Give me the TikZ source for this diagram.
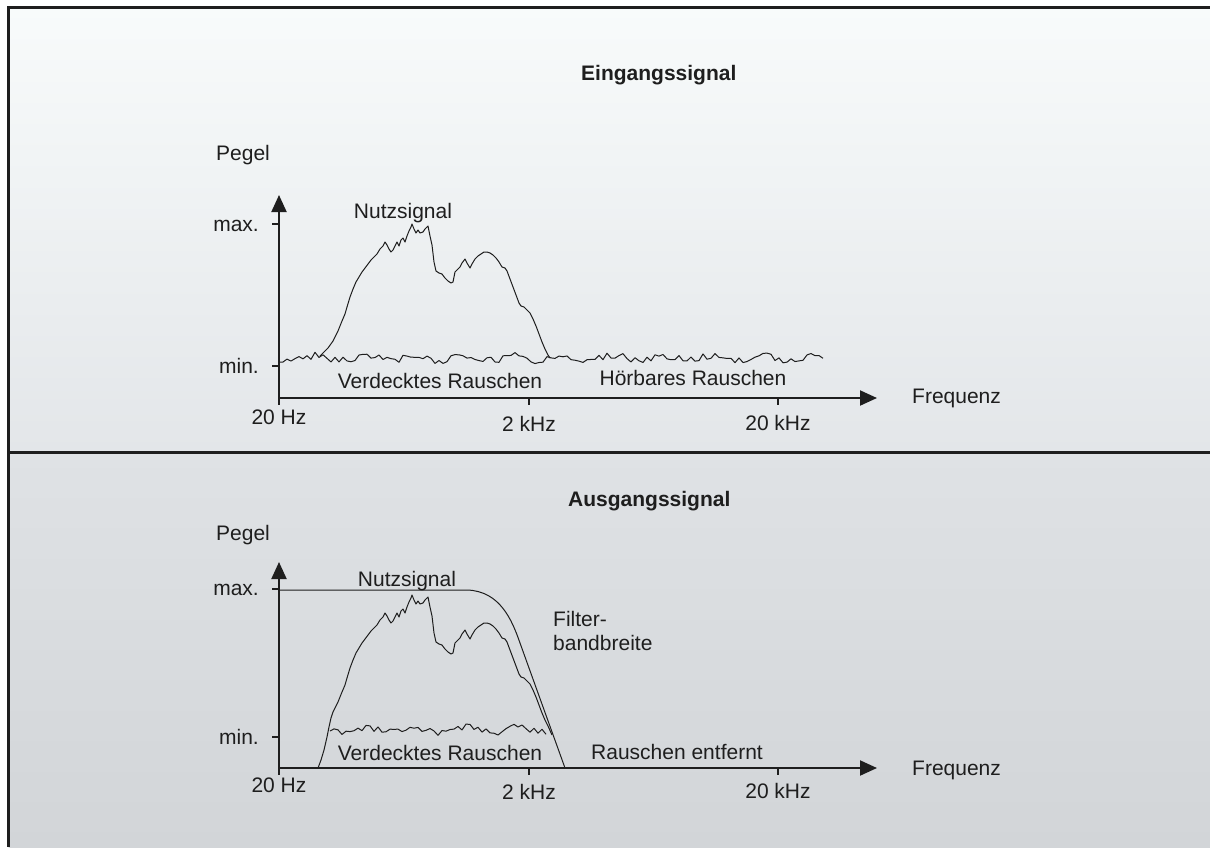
\documentclass[tikz,border=0pt]{standalone}
\usepackage{fontspec}
\setmainfont{Liberation Sans}
\usepackage{tikz}
\usetikzlibrary{positioning,arrows.meta}
\usepackage{xcolor}
\definecolor{ink}{HTML}{1E1E1E}
\definecolor{panelTop}{HTML}{F8FBFB}
\definecolor{panelMid}{HTML}{E3E6E9}
\definecolor{panelLow}{HTML}{DFE2E5}
\definecolor{panelEnd}{HTML}{D2D5D8}

\newcommand{\signalCore}{-- (333,341) -- (338,331) -- (342,321) -- (345,314) -- (347,307) -- (350,297) -- (353,289) -- (356,282) -- (359,277) -- (362,272) -- (365,268) -- (368,264) -- (371,260) -- (374,257) -- (377,254) -- (380,249) -- (383,246) -- (385,242) -- (387,245) -- (389,249) -- (391,252) -- (393,250) -- (395,246) -- (397,242) -- (399,246) -- (401,240) -- (403,238) -- (405,242) -- (407,236) -- (409,231) -- (411,227) -- (412,224) -- (414,229) -- (416,233) -- (418,230) -- (420,233) -- (423,232) -- (425,229) -- (428,226) -- (430,236) -- (432,245) -- (434,262) -- (436,271) -- (439,273) -- (442,274) -- (445,278) -- (448,281) -- (451,283) -- (453,282) -- (455,272) -- (457,270) -- (460,267) -- (462,263) -- (465,259) -- (467,263) -- (470,268) -- (472,264) -- (475,259) -- (478,256) -- (481,254) -- (484,252) -- (487,252) -- (490,253) -- (493,255) -- (496,258) -- (499,262) -- (502,267) -- (505,268) -- (507,271) -- (510,279) -- (513,287) -- (516,295) -- (519,303) -- (521,306) -- (524,307) -- (527,310) -- (530,313) -- (533,319) -- (536,326) -- (539,334) -- (542,342) -- (545,349) -- (548,355)}

\begin{document}
\begin{tikzpicture}[x=1pt, y=-1pt,
    axisArrow/.style={-{Triangle[length=17pt,width=15pt]}, line width=2pt, draw=ink},
    tickLine/.style={line width=1.3pt, draw=ink},
    curveLine/.style={line width=1pt, draw=ink, line join=round},
    frameLine/.style={line width=3pt, draw=ink},
    labelText/.style={font=\fontsize{21}{24}\selectfont, text=ink, inner sep=0pt},
    titleText/.style={font=\fontsize{21}{24}\selectfont\bfseries, text=ink, inner sep=0pt}
]
    \useasboundingbox (0,0) rectangle (1210,847);
    \fill[white] (0,0) rectangle (1210,847);
    \shade[top color=panelTop, bottom color=panelMid] (8.5,7) rectangle (1210,452);
    \shade[top color=panelLow, bottom color=panelEnd] (8.5,452) rectangle (1210,847);
    \draw[frameLine] (1210,7) -- (8.5,7) -- (8.5,847);
    \draw[frameLine] (8.5,452) -- (1210,452);

    \coordinate (inOrigin) at (279,398);
    \coordinate (inYTop) at (279,195);
    \coordinate (inXEnd) at (877,398);
    \coordinate (outOrigin) at (279,768);
    \coordinate (outYTop) at (279,562);
    \coordinate (outXEnd) at (877,768);

    \node[titleText, anchor=base west] (inTitle) at (581,80) {Eingangssignal};
    \node[labelText, anchor=base west] (inPegel) at (216,160) {Pegel};
    \node[labelText, anchor=base east] (inMax) at (259,231) {max.};
    \node[labelText, anchor=base east] (inMin) at (259,373) {min.};
    \node[labelText, anchor=base] (inNutz) at (403,218) {Nutzsignal};
    \node[labelText, anchor=base] (inMasked) at (440,388) {Verdecktes Rauschen};
    \node[labelText, anchor=base] (inAudible) at (693,385) {Hörbares Rauschen};
    \node[labelText, anchor=base west] (inFreq) at (912,403) {Frequenz};
    \node[labelText, anchor=base] (in20Hz) at (279,424) {20 Hz};
    \node[labelText, anchor=base] (in2kHz) at (529,431) {2 kHz};
    \node[labelText, anchor=base] (in20kHz) at (778,430) {20 kHz};

    \draw[axisArrow] (inOrigin) -- (inYTop);
    \draw[axisArrow] (inOrigin) -- (inXEnd);
    \foreach \ty in {224,366}
        \draw[tickLine] (272,\ty) -- (279,\ty);
    \foreach \tx in {279,529,778}
        \draw[tickLine] (\tx,398) -- (\tx,405);

    \pgfmathsetseed{73}
    \draw[curveLine] (279,362) \foreach \k in {1,...,136} { -- ({279+4*\k},{358+2.5*sin(\k*29)+3.5*rand}) };
    \draw[curveLine] (320,356) -- (324,352) -- (328,348) \signalCore -- (550,358);

    \node[titleText, anchor=base west] (outTitle) at (568,506) {Ausgangssignal};
    \node[labelText, anchor=base west] (outPegel) at (216,540) {Pegel};
    \node[labelText, anchor=base east] (outMax) at (259,595) {max.};
    \node[labelText, anchor=base east] (outMin) at (259,744) {min.};
    \node[labelText, anchor=base] (outNutz) at (407,586) {Nutzsignal};
    \node[labelText, anchor=north west, align=left] (outFilter) at (553,611) {Filter-\\bandbreite};
    \node[labelText, anchor=base] (outMasked) at (440,760) {Verdecktes Rauschen};
    \node[labelText, anchor=base] (outRemoved) at (677,759) {Rauschen entfernt};
    \node[labelText, anchor=base west] (outFreq) at (912,775) {Frequenz};
    \node[labelText, anchor=base] (out20Hz) at (279,792) {20 Hz};
    \node[labelText, anchor=base] (out2kHz) at (529,799) {2 kHz};
    \node[labelText, anchor=base] (out20kHz) at (778,798) {20 kHz};

    \draw[axisArrow] (outOrigin) -- (outYTop);
    \draw[axisArrow] (outOrigin) -- (outXEnd);
    \foreach \ty in {589,737}
        \draw[tickLine] (272,\ty) -- (279,\ty);
    \foreach \tx in {279,529,778}
        \draw[tickLine] (\tx,768) -- (\tx,775);

    \coordinate (filterStart) at (279,590);
    \coordinate (filterKnee) at (467,590);
    \coordinate (filterSlope) at (520,643);
    \coordinate (filterFoot) at (565,768);
    \draw[curveLine] (filterStart) -- (filterKnee) .. controls (500,591) and (512,620) .. (filterSlope) -- (filterFoot);

    \draw[curveLine] (330,731) \foreach \k in {1,...,54} { -- ({330+4*\k},{730+2.5*sin(\k*29)+3.5*rand}) };
    \begin{scope}[shift={(0,371)}]
        \draw[curveLine] (318,397) -- (321,389) -- (324,379) -- (327,366) -- (329,356) -- (331,347) \signalCore -- (552,364);
    \end{scope}
\end{tikzpicture}
\end{document}
